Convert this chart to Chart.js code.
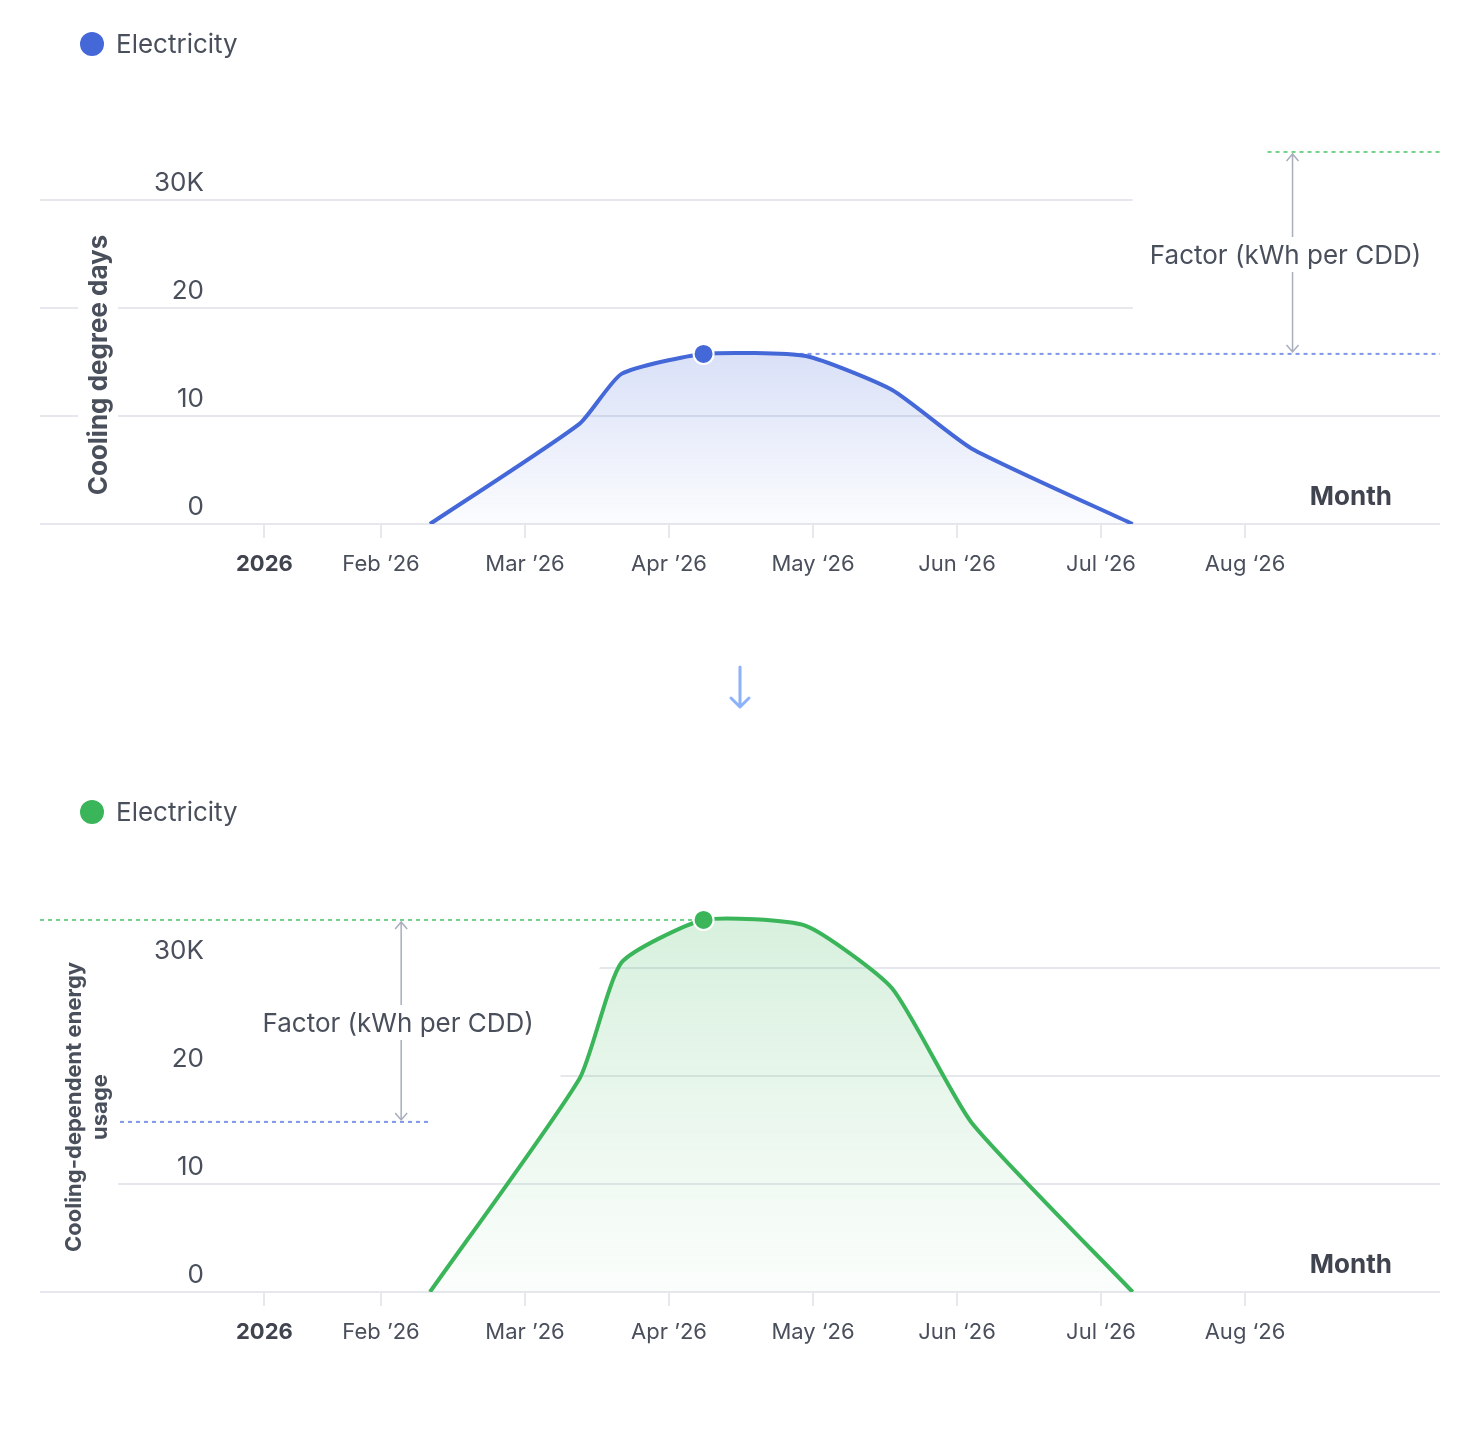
<!DOCTYPE html>
<html>
<head>
<meta charset="utf-8">
<script src="https://cdn.jsdelivr.net/npm/chart.js@4.4.1/dist/chart.umd.min.js"></script>
<style>
    html, body { margin: 0; padding: 0; background: #fff; }
    body { position: relative; width: 1480px; height: 1430px; overflow: hidden; font-family: Inter, sans-serif; }
    .panel { position: absolute; left: 0; width: 1480px; height: 600px; }
    #panel-cdd { top: 0; }
    #panel-energy { top: 768px; }
    #flow-arrow { position: absolute; left: 725px; top: 660px; }
</style>
</head>
<body>
<div class="panel" id="panel-cdd"><canvas id="cdd-chart"></canvas></div>
<svg id="flow-arrow" width="30" height="56" viewBox="0 0 30 56">
    <path d="M15 7 V47 M6 38 L15 47 L24 38" fill="none" stroke="#8cb2fa" stroke-width="3" stroke-linecap="round" stroke-linejoin="round"/>
</svg>
<div class="panel" id="panel-energy"><canvas id="energy-chart"></canvas></div>

<script>
/* --------------------------------------------------------------
   DATA
-------------------------------------------------------------- */

// x in months, Feb '26 = 1
const monthPos = [1.34, 2.38, 2.67, 3.24, 3.95, 4.55, 5.10, 6.22];
const cddValues = [0, 9.3, 13.9, 15.75, 15.55, 12.4, 7.0, 0];
const energyValues = [0, 19.8, 30.5, 34.45, 33.9, 28.1, 15.7, 0];

const xTickPositions = [0.19, 1, 2, 3, 4, 5, 6, 7];
const xTickLabels = ["2026", "Feb \u201926", "Mar \u201926", "Apr \u201926", "May \u201826", "Jun \u201826", "Jul \u201826", "Aug \u201826"];
const yTickValues = [0, 10, 20, 30];
const yTickLabels = ["0", "10", "20", "30K"];

/* --------------------------------------------------------------
   STYLE / LAYOUT
-------------------------------------------------------------- */

const TEXT = "#4a4f5c";
const TEXT_BOLD = "#40444f";
const GRID = "#e6e8ee";
const ARROW = "#a8aebb";

const PX_PER_UNIT = 10.8;
const CANVAS_H = 600;
const PLOT_TOP = 60;
const PLOT_BOTTOM = 524;
const X_AXIS_H = 60;

const cddMax = Math.max(...cddValues);
const energyMax = Math.max(...energyValues);

/* --------------------------------------------------------------
   PLUGIN – legend, masks, factor arrow, dashed levels, titles
-------------------------------------------------------------- */

function dashed(ctx, x1, x2, y, color) {
    ctx.save();
    ctx.strokeStyle = color;
    ctx.lineWidth = 2;
    ctx.setLineDash([4, 4]);
    ctx.beginPath();
    ctx.moveTo(x1, y);
    ctx.lineTo(x2, y);
    ctx.stroke();
    ctx.restore();
}

const factorNotes = {
    id: "factorNotes",
    beforeDatasetsDraw(chart, args, opts) {
        const ctx = chart.ctx;
        const area = chart.chartArea;
        const x = chart.scales.x;
        const y = chart.scales.y;
        const pts = chart.getDatasetMeta(0).data;
        const yGreen = y.getPixelForValue(energyMax);
        const yBlue = y.getPixelForValue(cddMax);
        const peak = pts[opts.peakIndex];
        const arrowX = x.getPixelForValue(opts.arrowAt);

        // white band behind the factor note
        ctx.save();
        ctx.fillStyle = "#fff";
        if (opts.side === "right") {
            const last = pts[pts.length - 1];
            ctx.fillRect(last.x, yGreen, area.right - last.x, yBlue - yGreen);
        } else {
            ctx.beginPath();
            ctx.rect(area.left, yGreen, area.width, yBlue - yGreen);
            ctx.clip();
            ctx.beginPath();
            ctx.moveTo(area.left, area.bottom);
            for (let i = 0; i <= opts.peakIndex; i++) {
                ctx.lineTo(pts[i].x - 20, pts[i].y);
            }
            ctx.lineTo(area.left, peak.y);
            ctx.closePath();
            ctx.fill();
        }
        ctx.restore();

        // dashed reference levels
        if (opts.side === "right") {
            dashed(ctx, peak.x, area.right, yBlue, "#8096e6");
            dashed(ctx, arrowX - 25, area.right, yGreen, "#74d08a");
        } else {
            dashed(ctx, area.left, peak.x, yGreen, "#74d08a");
            dashed(ctx, area.left, arrowX + 29, yBlue, "#8096e6");
        }

        // double arrow with label
        const mid = (yGreen + yBlue) / 2;
        ctx.save();
        ctx.strokeStyle = ARROW;
        ctx.lineWidth = 1.5;
        ctx.beginPath();
        ctx.moveTo(arrowX, yGreen + 2);
        ctx.lineTo(arrowX, mid - 16);
        ctx.moveTo(arrowX, mid + 19);
        ctx.lineTo(arrowX, yBlue - 2);
        ctx.moveTo(arrowX - 6, yGreen + 9);
        ctx.lineTo(arrowX, yGreen + 2);
        ctx.lineTo(arrowX + 6, yGreen + 9);
        ctx.moveTo(arrowX - 6, yBlue - 9);
        ctx.lineTo(arrowX, yBlue - 2);
        ctx.lineTo(arrowX + 6, yBlue - 9);
        ctx.stroke();
        ctx.fillStyle = TEXT;
        ctx.font = "26px Inter";
        ctx.textAlign = "center";
        ctx.textBaseline = "middle";
        ctx.fillText("Factor (kWh per CDD)", arrowX + opts.labelShift, mid + 3);
        ctx.restore();

        // y axis title on a white box
        ctx.save();
        ctx.font = "bold " + opts.titleSize + "px Inter";
        const lineH = opts.titleSize + 4;
        const lines = opts.title;
        const blockW = lines.length * lineH;
        const cx = opts.titleX;
        const cy = opts.titleY;
        ctx.fillStyle = "#fff";
        ctx.fillRect(opts.boxLeft, cy - 155, 118 - opts.boxLeft, 310);
        ctx.translate(cx, cy);
        ctx.rotate(-Math.PI / 2);
        ctx.fillStyle = TEXT;
        ctx.textAlign = "center";
        ctx.textBaseline = "middle";
        lines.forEach((t, i) => {
            ctx.fillText(t, 0, -blockW / 2 + lineH * (i + 0.5));
        });
        ctx.restore();

        // "Month" axis note
        ctx.save();
        ctx.font = "bold 26px Inter";
        ctx.fillStyle = TEXT_BOLD;
        ctx.textAlign = "right";
        ctx.textBaseline = "middle";
        ctx.fillText("Month", area.right - 48, area.bottom - 27);
        ctx.restore();
    },
    afterDraw(chart) {
        // legend: dot + series name
        const ctx = chart.ctx;
        const ds = chart.data.datasets[0];
        ctx.save();
        ctx.fillStyle = ds.borderColor;
        ctx.beginPath();
        ctx.arc(92, 44, 12, 0, Math.PI * 2);
        ctx.fill();
        ctx.fillStyle = TEXT;
        ctx.font = "26px Inter";
        ctx.textAlign = "left";
        ctx.textBaseline = "middle";
        ctx.fillText(ds.label, 116, 45);
        ctx.restore();
    }
};

/* --------------------------------------------------------------
   CHART BUILDER
-------------------------------------------------------------- */

function buildChart(canvasId, values, color, rgb, notes) {
    const peakIndex = values.indexOf(Math.max(...values));

    return new Chart(document.getElementById(canvasId), {
        type: "line",
        data: {
            datasets: [{
                label: "Electricity",
                data: monthPos.map((m, i) => ({ x: m, y: values[i] })),
                borderColor: color,
                backgroundColor: color,
                borderWidth: 4,
                tension: 0.18,
                fill: {
                    target: "origin",
                    above: (ctx) => {
                        const a = ctx.chart.chartArea;
                        if (!a) return "rgba(" + rgb + ",0.1)";
                        const top = ctx.chart.scales.y.getPixelForValue(Math.max(...values));
                        const g = ctx.chart.ctx.createLinearGradient(0, top, 0, a.bottom);
                        g.addColorStop(0, "rgba(" + rgb + ",0.2)");
                        g.addColorStop(1, "rgba(" + rgb + ",0.02)");
                        return g;
                    }
                },
                pointRadius: (ctx) => ctx.dataIndex === peakIndex ? 10 : 0,
                pointHoverRadius: 0,
                pointBackgroundColor: color,
                pointBorderColor: "#fff",
                pointBorderWidth: 2
            }]
        },
        options: {
            responsive: true,
            maintainAspectRatio: false,
            animation: false,
            layout: { padding: { left: 40, right: 40, top: PLOT_TOP, bottom: CANVAS_H - X_AXIS_H - PLOT_BOTTOM } },
            plugins: {
                tooltip: { enabled: false },
                legend: { display: false },
                factorNotes: Object.assign({ peakIndex: peakIndex }, notes)
            },
            scales: {
                x: {
                    type: "linear",
                    min: -1.368,
                    max: 8.354,
                    afterBuildTicks: (s) => { s.ticks = xTickPositions.map(v => ({ value: v })); },
                    afterFit: (s) => { s.height = X_AXIS_H; s.paddingLeft = 0; s.paddingRight = 0; },
                    border: { display: false },
                    grid: {
                        drawOnChartArea: false,
                        drawTicks: true,
                        tickLength: 14,
                        color: GRID,
                        lineWidth: 2
                    },
                    ticks: {
                        padding: 13,
                        maxRotation: 0,
                        autoSkip: false,
                        color: (ctx) => ctx.index === 0 ? TEXT_BOLD : TEXT,
                        font: (ctx) => ({ family: "Inter", size: 22, weight: ctx.index === 0 ? "bold" : "normal" }),
                        callback: (v, i) => xTickLabels[i]
                    }
                },
                y: {
                    type: "linear",
                    min: 0,
                    max: (PLOT_BOTTOM - PLOT_TOP) / PX_PER_UNIT,
                    afterBuildTicks: (s) => { s.ticks = yTickValues.map(v => ({ value: v })); },
                    afterFit: (s) => { s.width = 0; s.paddingTop = 0; s.paddingBottom = 0; },
                    border: { display: false },
                    grid: { color: GRID, lineWidth: 2, drawTicks: false },
                    ticks: {
                        z: 1,
                        mirror: true,
                        crossAlign: "far",
                        padding: 114,
                        labelOffset: -17,
                        color: TEXT,
                        font: { family: "Inter", size: 26 },
                        callback: (v, i) => yTickLabels[i]
                    }
                }
            }
        },
        plugins: [factorNotes]
    });
}

/* --------------------------------------------------------------
   BUILD BOTH PANELS
-------------------------------------------------------------- */

buildChart("cdd-chart", cddValues, "#4468d8", "68,104,216", {
    side: "right",
    arrowAt: 7.33,
    labelShift: -7,
    title: ["Cooling degree days"],
    titleSize: 26,
    titleX: 99,
    titleY: 365,
    boxLeft: 78
});

buildChart("energy-chart", energyValues, "#3bb55a", "59,181,90", {
    side: "left",
    arrowAt: 1.14,
    labelShift: -3,
    title: ["Cooling-dependent energy", "usage"],
    titleSize: 22,
    titleX: 87,
    titleY: 339,
    boxLeft: 40
});
</script>
</body>
</html>
